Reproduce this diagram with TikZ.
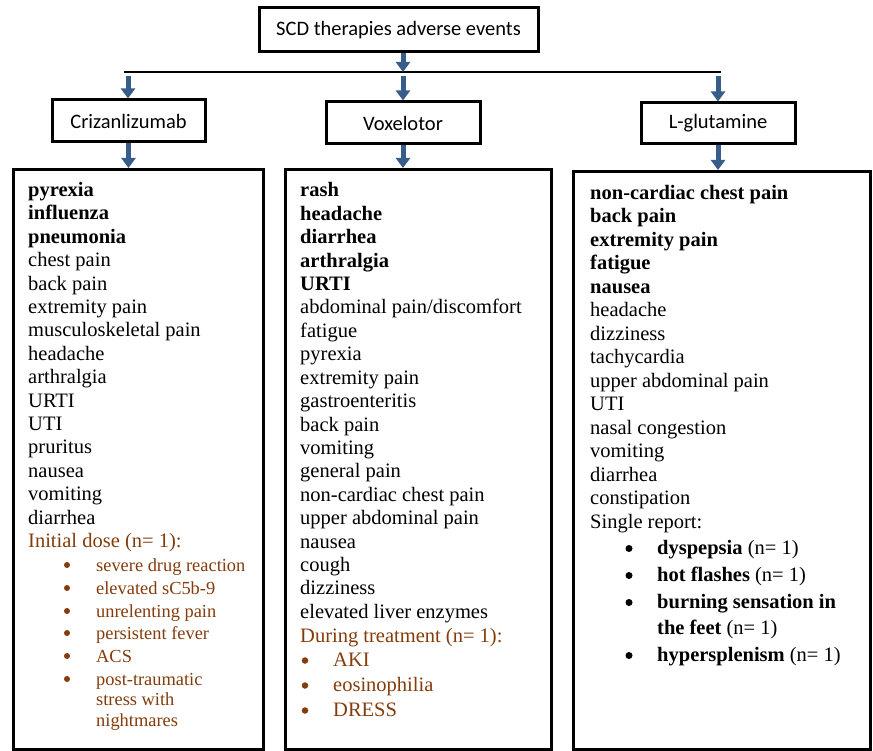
\documentclass[tikz,border=0pt]{standalone}
\usepackage{fontspec}
\setmainfont{Liberation Serif}
\newfontfamily\hdrfont{Carlito}
\usetikzlibrary{arrows.meta}
\definecolor{brn}{HTML}{843C0C}
\definecolor{arrblue}{RGB}{56,93,138}
\begin{document}
\begin{tikzpicture}[x=1pt,y=-1pt,
  hbox/.style={draw, line width=3pt, inner sep=0pt, font=\hdrfont\fontsize{20.5}{24}\selectfont},
  lbox/.style={draw, line width=3pt, inner sep=0pt},
  itm/.style={anchor=base west, inner sep=0pt, font=\fontsize{20.5}{24}\selectfont},
  sitm/.style={anchor=base west, inner sep=0pt, font=\fontsize{18.4}{21}\selectfont, text=brn},
  bul/.style={circle, fill, inner sep=0pt, minimum size=6.5pt},
  blarrow/.style={draw=arrblue, line width=5pt, -{Triangle[width=14pt,length=10pt]}},
  hline/.style={line width=1.5pt}
]
\useasboundingbox (0,0) rectangle (873,751);
% header boxes
\node[hbox, minimum width=279pt, minimum height=44pt] (top) at (398.5,30) {SCD therapies adverse events};
\node[hbox, minimum width=153pt, minimum height=42pt] (cri) at (128.5,121) {Crizanlizumab};
\node[hbox, minimum width=154pt, minimum height=42pt] (vox) at (403,123) {Voxelotor};
\node[hbox, minimum width=154pt, minimum height=41pt] (lgl) at (718,123.5) {L-glutamine};
% list boxes
\node[lbox, minimum width=250pt, minimum height=580pt] (listL) at (138,459.5) {};
\node[lbox, minimum width=266pt, minimum height=580pt] (listM) at (418,459.5) {};
\node[lbox, minimum width=297pt, minimum height=578pt] (listR) at (721.5,460.5) {};
% connectors
\coordinate (jT) at (403,72);
\coordinate (lnL) at (124,72);
\coordinate (lnR) at (721,72);
\coordinate (aL) at (128,76);
\coordinate (aM) at (403,76);
\coordinate (aR) at (718,76);
\draw[hline] (lnL) -- (lnR);
\draw[blarrow] (jT |- top.south) -- (jT);
\draw[blarrow] (aL) -- (aL |- cri.north);
\draw[blarrow] (aM) -- (aM |- vox.north);
\draw[blarrow] (aR) -- (aR |- lgl.north);
\draw[blarrow] (cri.south) -- (cri.south |- listL.north);
\draw[blarrow] (vox.south) -- (vox.south |- listM.north);
\draw[blarrow] (lgl.south) -- (lgl.south |- listR.north);
% left list
\foreach \t [count=\i] in {\textbf{pyrexia},\textbf{influenza},\textbf{pneumonia},chest pain,back pain,extremity pain,musculoskeletal pain,headache,arthralgia,URTI,UTI,pruritus,nausea,vomiting,diarrhea}
  \node[itm] (L\i) at (28,{196.5+(\i-1)*23.4}) {\t};
\node[itm, text=brn] (Lh) at (28,547.5) {Initial dose (n= 1):};
\foreach \yy [count=\i] in {571,594,617,639,662,685}
  \node[bul, fill=brn, minimum size=6pt] (Lb\i) at (67,\yy-6) {};
\node[sitm] (Ls1) at (96,571) {severe drug reaction};
\node[sitm] (Ls2) at (96,594) {elevated sC5b-9};
\node[sitm] (Ls3) at (96,617) {unrelenting pain};
\node[sitm] (Ls4) at (96,639) {persistent fever};
\node[sitm] (Ls5) at (96,662) {ACS};
\node[sitm] (Ls6) at (96,685) {post-traumatic};
\node[sitm] (Ls7) at (96,705.5) {stress with};
\node[sitm] (Ls8) at (96,726) {nightmares};
% middle list
\foreach \t [count=\i] in {\textbf{rash},\textbf{headache},\textbf{diarrhea},\textbf{arthralgia},\textbf{URTI},abdominal pain/discomfort,fatigue,pyrexia,extremity pain,gastroenteritis,back pain,vomiting,general pain,non-cardiac chest pain,upper abdominal pain,nausea,cough,dizziness,elevated liver enzymes}
  \node[itm] (M\i) at (300,{197+(\i-1)*23.4}) {\t};
\node[itm, text=brn] (Mh) at (300,642) {During treatment (n= 1):};
\foreach \yy/\t [count=\i] in {666.5/AKI,691.5/eosinophilia,716.5/DRESS}{
  \node[bul, fill=brn] (Mb\i) at (305,\yy-6) {};
  \node[itm, text=brn] (Ms\i) at (333,\yy) {\t};
}
% right list
\foreach \t [count=\i] in {\textbf{non-cardiac chest pain},\textbf{back pain},\textbf{extremity pain},\textbf{fatigue},\textbf{nausea},headache,dizziness,tachycardia,upper abdominal pain,UTI,nasal congestion,vomiting,diarrhea,constipation,Single report:}
  \node[itm] (R\i) at (590,{199.3+(\i-1)*23.48}) {\t};
\foreach \yy [count=\i] in {554,581,608,661}
  \node[bul, fill=black, minimum size=7pt] (Rb\i) at (629,\yy-5.5) {};
\node[itm] (Rs1) at (657,554) {\textbf{dyspepsia} (n= 1)};
\node[itm] (Rs2) at (657,581) {\textbf{hot flashes} (n= 1)};
\node[itm] (Rs3) at (657,608) {\textbf{burning sensation in}};
\node[itm] (Rs4) at (657,634) {\textbf{the feet} (n= 1)};
\node[itm] (Rs5) at (657,661) {\textbf{hypersplenism} (n= 1)};
\end{tikzpicture}
\end{document}
